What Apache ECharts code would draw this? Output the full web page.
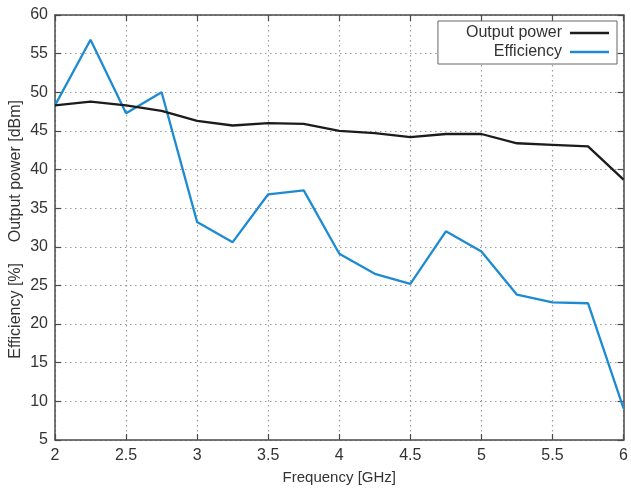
<!DOCTYPE html>
<html>
<head>
<meta charset="utf-8">
<script src="https://cdn.jsdelivr.net/npm/echarts@6/dist/echarts.min.js"></script>
<style>
  html, body { margin: 0; padding: 0; background: #fff; }
  #chart { width: 631px; height: 490px; }
</style>
</head>
<body>
<div id="chart"></div>
<script>
// Frequency sweep (GHz)
const frequency = [2, 2.25, 2.5, 2.75, 3, 3.25, 3.5, 3.75, 4, 4.25, 4.5, 4.75, 5, 5.25, 5.5, 5.75, 6];
// Output power (dBm)
const outputPower = [48.3, 48.8, 48.3, 47.6, 46.3, 45.7, 46.0, 45.9, 45.0, 44.7, 44.2, 44.6, 44.6, 43.4, 43.2, 43.0, 38.7];
// Drain efficiency (%)
const efficiency = [48.3, 56.8, 47.3, 50.0, 33.2, 30.6, 36.8, 37.3, 29.1, 26.5, 25.2, 32.0, 29.4, 23.8, 22.8, 22.7, 9.1];
const seriesNames = ['Output power', 'Efficiency'];

const FONT = '"Liberation Sans", Arial, sans-serif';
const TEXT = '#333';
const AXIS = '#4a4a4a';

const pairs = (ys) => frequency.map((f, i) => [f, ys[i]]);

const chart = echarts.init(document.getElementById('chart'), null, { renderer: 'canvas' });

const axisLineStyle = { show: true, lineStyle: { color: AXIS, width: 1.5 } };
const tickInside = { show: true, inside: true, length: 6, lineStyle: { color: AXIS, width: 1.2 } };
const gridDots = { show: true, lineStyle: { type: [1.5, 3.5], color: '#9a9a9a', width: 1.2 } };

chart.setOption({
  animation: false,
  backgroundColor: '#fff',
  grid: { left: 55, right: 6, top: 15, bottom: 47, containLabel: false },
  legend: {
    data: seriesNames,
    orient: 'vertical',
    right: 14,
    top: 21,
    align: 'right',
    icon: 'rect',
    itemWidth: 39,
    itemHeight: 2.5,
    itemGap: 3,
    padding: [4, 8, 4, 28],
    borderColor: '#666',
    borderWidth: 1,
    backgroundColor: '#fff',
    textStyle: { fontFamily: FONT, fontSize: 16, color: TEXT, width: 98, align: 'right', padding: [0, 3, 0, 0] }
  },
  xAxis: [
    {
      type: 'value', min: 2, max: 6, interval: 0.5,
      name: 'Frequency [GHz]', nameLocation: 'middle', nameGap: 30,
      nameTextStyle: { fontFamily: FONT, fontSize: 15, color: TEXT },
      axisLine: axisLineStyle, axisTick: tickInside,
      axisLabel: { fontFamily: FONT, fontSize: 16, color: TEXT, margin: 8 },
      splitLine: gridDots
    },
    {
      type: 'value', position: 'top', min: 2, max: 6, interval: 0.5,
      axisLine: axisLineStyle, axisTick: tickInside,
      axisLabel: { show: false }, splitLine: { show: false }
    }
  ],
  yAxis: [
    {
      type: 'value', min: 5, max: 60, interval: 5,
      axisLine: axisLineStyle, axisTick: tickInside,
      axisLabel: { fontFamily: FONT, fontSize: 16, color: TEXT, margin: 7 },
      splitLine: gridDots
    },
    {
      type: 'value', position: 'right', min: 5, max: 60, interval: 5,
      axisLine: axisLineStyle, axisTick: tickInside,
      axisLabel: { show: false }, splitLine: { show: false }
    }
  ],
  graphic: [
    {
      type: 'text', left: 8, top: 100, rotation: Math.PI / 2,
      style: { text: 'Output power [dBm]', font: '16px ' + FONT, fill: TEXT }
    },
    {
      type: 'text', left: 8, top: 263, rotation: Math.PI / 2,
      style: { text: 'Efficiency [%]', font: '16px ' + FONT, fill: TEXT }
    }
  ],
  series: [
    {
      name: seriesNames[0], type: 'line', data: pairs(outputPower),
      showSymbol: false, symbol: 'none',
      lineStyle: { color: '#1c1c1c', width: 2.3 }, itemStyle: { color: '#1c1c1c' }, z: 3
    },
    {
      name: seriesNames[1], type: 'line', data: pairs(efficiency),
      showSymbol: false, symbol: 'none',
      lineStyle: { color: '#1d8bd2', width: 2.3 }, itemStyle: { color: '#1d8bd2' }, z: 2
    }
  ]
});
</script>
</body>
</html>
